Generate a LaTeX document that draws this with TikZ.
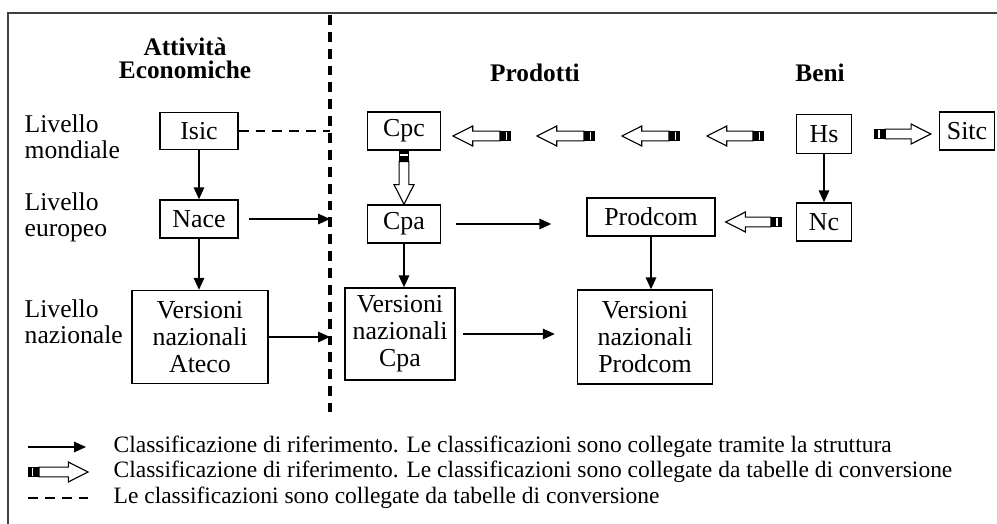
\documentclass[tikz,border=0pt]{standalone}
\usepackage{fontspec}
\setmainfont{Liberation Serif}
\usetikzlibrary{arrows.meta,calc}
\tikzset{
 box/.style={draw, line width=1pt, inner sep=0pt, align=center, font=\fontsize{18.4}{19.1}\selectfont},
 lab/.style={anchor=west, align=left, inner sep=0pt, font=\fontsize{18.2}{18.6}\selectfont},
 hdr/.style={align=center, inner sep=0pt, font=\fontsize{18}{16.3}\selectfont\bfseries},
 leg/.style={anchor=west, inner sep=0pt, font=\fontsize{16.7}{18}\selectfont},
 dashlink/.style={line width=1pt, dash pattern=on 7pt off 5pt},
 convarrow/.pic={
  \draw[line width=0.8pt, fill=white] (7.8pt,-3.5pt) -- ({#1-14pt},-3.5pt) -- ({#1-14pt},-7.1pt) -- ({#1+0pt},0pt) -- ({#1-14pt},7.1pt) -- ({#1-14pt},3.5pt) -- (7.8pt,3.5pt) -- cycle;
  \fill (0pt,-3.9pt) rectangle (7.8pt,3.9pt);
  \fill[white] (2.6pt,-2.6pt) rectangle (3.8pt,2.6pt);
 }
}
\newcommand{\convarr}[2]{\path let \p1=#1, \p2=#2, \n1={atan2(\y2-\y1,\x2-\x1)}, \n2={veclen(\x2-\x1,\y2-\y1)} in (\p1) pic[rotate=\n1] {convarrow=\n2};}

\begin{document}
\begin{tikzpicture}[x=0.025cm, y=-0.025cm, >={Triangle[length=8.5pt,width=7.5pt]}, line width=1pt]
\useasboundingbox (0,0) rectangle (997,524);
\draw[line width=1.6pt, black!75] (8,524) -- (8,13) -- (997,13);
\coordinate (septop) at (330,15);
\coordinate (sepbot) at (330,412);
\draw[line width=2.6pt, dash pattern=on 7pt off 5pt] (septop) -- (sepbot);

\node[hdr] (attivita) at (185,58) {Attività\\Economiche};
\node[hdr] (prodotti) at (535,73) {Prodotti};
\node[hdr] (beni) at (820,73) {Beni};

\node[lab] (mondiale) at (24,137) {Livello\\mondiale};
\node[lab] (europeo) at (24,217) {Livello\\europeo};
\node[lab] (nazionale) at (24,322) {Livello\\nazionale};

\node[box, minimum width=1.95cm, minimum height=0.93cm] (isic) at (199,131) {Isic};
\node[box, minimum width=1.95cm, minimum height=0.95cm] (nace) at (199,219) {Nace};
\node[box, minimum width=1.825cm, minimum height=0.95cm] (cpc) at (404,131) {Cpc};
\node[box, minimum width=1.825cm, minimum height=0.95cm] (cpa) at (404,224) {Cpa};
\node[box, minimum width=1.375cm, minimum height=0.975cm] (hs) at (824,134) {Hs};
\node[box, minimum width=1.375cm, minimum height=0.95cm] (sitc) at (967,131) {Sitc};
\node[box, minimum width=3.2cm, minimum height=0.95cm] (prodcom) at (651,217) {Prodcom};
\node[box, minimum width=1.375cm, minimum height=0.95cm] (nc) at (824,222) {Nc};
\node[box, minimum width=3.4cm, minimum height=2.325cm] (vateco) at (200,337) {Versioni\\nazionali\\Ateco};
\node[box, minimum width=2.75cm, minimum height=2.3cm] (vcpa) at (400,334) {Versioni\\nazionali\\Cpa};
\node[box, minimum width=3.375cm, minimum height=2.35cm] (vprodcom) at (645,337) {Versioni\\nazionali\\Prodcom};

\draw[->] (isic) -- (nace);
\draw[->] (nace.south) -- (nace.south |- vateco.north);
\draw[->] (cpa.south) -- (cpa.south |- vcpa.north);
\draw[->] (prodcom.south) -- (prodcom.south |- vprodcom.north);
\draw[->] (hs) -- (nc);
\draw[->, shorten <=0.25cm] (nace.east) -- (nace.east -| septop);
\draw[->] (vateco.east) -- (vateco.east -| septop);
\draw[->, shorten <=0.375cm, shorten >=0.875cm] (cpa.east) -- (cpa.east -| prodcom.west);
\draw[->, shorten <=0.175cm, shorten >=0.55cm] (vcpa.east) -- (vcpa.east -| vprodcom.west);
\draw[dashlink] (isic.east) -- (isic.east -| septop);

\convarr{(cpc.south)}{(cpa.north)}
\foreach \t/\h [count=\i] in {511/453,595/537,680/622,764/707} {
  \coordinate (t\i) at (\t,136);
  \coordinate (h\i) at (\h,136);
  \convarr{(t\i)}{(h\i)}
}
\convarr{($(hs.east)+(22,0)$)}{($(hs.east -| sitc.west)+(-8,0)$)}
\convarr{($(nc.west)+(-14,0)$)}{($(nc.west -| prodcom.east)+(10,0)$)}

\coordinate (l1a) at (28,447);
\coordinate (l1b) at (86,447);
\draw[->] (l1a) -- (l1b);
\node[leg] (leg1) at (113,447) {Classificazione di riferimento. Le classificazioni sono collegate tramite la struttura};
\coordinate (l2a) at (28,472);
\coordinate (l2b) at (88,472);
\convarr{(l2a)}{(l2b)}
\node[leg] (leg2) at (113,472) {Classificazione di riferimento. Le classificazioni sono collegate da tabelle di conversione};
\coordinate (l3a) at (28,498);
\coordinate (l3b) at (90,498);
\draw[dashlink] (l3a) -- (l3b);
\node[leg] (leg3) at (113,498) {Le classificazioni sono collegate da tabelle di conversione};
\end{tikzpicture}
\end{document}
